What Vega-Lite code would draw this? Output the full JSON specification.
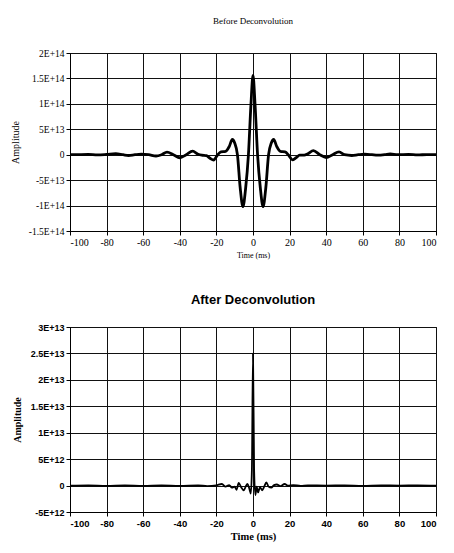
{
  "$schema": "https://vega.github.io/schema/vega-lite/v6.json",
  "background": "white",
  "padding": {"left": 9, "top": 16, "right": 8, "bottom": 4},
  "spacing": 33,
  "config": {
    "view": {"stroke": "black", "strokeWidth": 1},
    "axis": {
      "grid": true,
      "gridColor": "#111111",
      "gridWidth": 1,
      "domainColor": "black",
      "tickColor": "black",
      "tickSize": 4,
      "labelColor": "black",
      "titleColor": "black",
      "labelPadding": 2
    }
  },
  "datasets": {
    "before": [
      {"t": -100, "amp": 0}, {"t": -95, "amp": 0.03e13}, {"t": -90, "amp": 0.05e13}, {"t": -85, "amp": -0.05e13},
      {"t": -80, "amp": 0.05e13}, {"t": -75, "amp": 0.2e13}, {"t": -71, "amp": 0}, {"t": -68, "amp": -0.15e13},
      {"t": -64.5, "amp": 0}, {"t": -61, "amp": 0.1e13}, {"t": -57, "amp": 0}, {"t": -53, "amp": -0.25e13},
      {"t": -50, "amp": 0}, {"t": -47, "amp": 0.5e13}, {"t": -43.5, "amp": 0}, {"t": -40, "amp": -0.6e13},
      {"t": -36.5, "amp": 0}, {"t": -33, "amp": 0.7e13}, {"t": -30, "amp": 0.1e13}, {"t": -28, "amp": -0.1e13},
      {"t": -25.5, "amp": -0.2e13}, {"t": -23.5, "amp": -0.7e13}, {"t": -21.5, "amp": -1.05e13}, {"t": -19.5, "amp": -0.1e13},
      {"t": -17.5, "amp": 0.55e13}, {"t": -15, "amp": 0.65e13}, {"t": -13, "amp": 1.6e13}, {"t": -11.3, "amp": 3.0e13},
      {"t": -10, "amp": 2.3e13}, {"t": -8.5, "amp": 0}, {"t": -7, "amp": -6.5e13}, {"t": -5.5, "amp": -10.2e13},
      {"t": -4, "amp": -6.5e13}, {"t": -2.5, "amp": 0}, {"t": -1.1, "amp": 10e13}, {"t": 0, "amp": 15.6e13},
      {"t": 1.1, "amp": 10e13}, {"t": 2.5, "amp": 0}, {"t": 4, "amp": -6.5e13}, {"t": 5.5, "amp": -10.2e13},
      {"t": 7, "amp": -6.5e13}, {"t": 8.5, "amp": 0}, {"t": 10, "amp": 2.3e13}, {"t": 11.3, "amp": 3.0e13},
      {"t": 13, "amp": 1.6e13}, {"t": 15, "amp": 0.65e13}, {"t": 17.5, "amp": 0.55e13}, {"t": 19.5, "amp": -0.1e13},
      {"t": 21.5, "amp": -1.0e13}, {"t": 23.5, "amp": -0.6e13}, {"t": 25.5, "amp": -0.1e13}, {"t": 28, "amp": -0.1e13},
      {"t": 30, "amp": 0.2e13}, {"t": 33, "amp": 0.8e13}, {"t": 36.5, "amp": 0}, {"t": 40, "amp": -0.55e13},
      {"t": 43.5, "amp": 0}, {"t": 47, "amp": 0.55e13}, {"t": 50, "amp": 0}, {"t": 54, "amp": -0.15e13},
      {"t": 57.5, "amp": 0}, {"t": 61, "amp": 0.1e13}, {"t": 65, "amp": 0}, {"t": 68, "amp": -0.1e13},
      {"t": 72, "amp": 0}, {"t": 75, "amp": 0.15e13}, {"t": 79, "amp": 0}, {"t": 85, "amp": 0.05e13},
      {"t": 90, "amp": -0.05e13}, {"t": 95, "amp": 0.03e13}, {"t": 100, "amp": 0}
    ],
    "after": [
      {"t": -100, "amp": 0}, {"t": -90, "amp": 0.05e12}, {"t": -80, "amp": -0.05e12}, {"t": -70, "amp": 0.05e12},
      {"t": -60, "amp": -0.05e12}, {"t": -50, "amp": 0.05e12}, {"t": -40, "amp": -0.05e12}, {"t": -30, "amp": 0.05e12},
      {"t": -25, "amp": -0.1e12}, {"t": -20, "amp": 0.05e12}, {"t": -17, "amp": 0.3e12}, {"t": -15, "amp": -0.2e12},
      {"t": -13, "amp": 0.1e12}, {"t": -11.5, "amp": -0.4e12}, {"t": -10, "amp": -0.2e12}, {"t": -9, "amp": -0.8e12},
      {"t": -7.8, "amp": 0.5e12}, {"t": -6.5, "amp": -0.3e12}, {"t": -5, "amp": -0.9e12}, {"t": -4, "amp": -0.2e12},
      {"t": -3, "amp": 0.3e12}, {"t": -2, "amp": -0.6e12}, {"t": -1.2, "amp": -1.5e12}, {"t": -0.6, "amp": 3e12},
      {"t": 0, "amp": 25e12}, {"t": 0.6, "amp": 3e12}, {"t": 1.3, "amp": -1.8e12}, {"t": 2, "amp": -0.2e12},
      {"t": 2.8, "amp": -1.3e12}, {"t": 3.8, "amp": -0.3e12}, {"t": 5, "amp": -0.9e12}, {"t": 6, "amp": -0.3e12},
      {"t": 7.3, "amp": 0.6e12}, {"t": 8.5, "amp": -0.2e12}, {"t": 10, "amp": -0.4e12}, {"t": 11.5, "amp": 0.1e12},
      {"t": 13, "amp": 0.2e12}, {"t": 15, "amp": -0.1e12}, {"t": 17.3, "amp": 0.3e12}, {"t": 19, "amp": 0},
      {"t": 22, "amp": 0.1e12}, {"t": 26, "amp": -0.05e12}, {"t": 30, "amp": 0.05e12}, {"t": 40, "amp": 0},
      {"t": 50, "amp": 0.05e12}, {"t": 60, "amp": -0.05e12}, {"t": 70, "amp": 0.05e12}, {"t": 80, "amp": 0},
      {"t": 90, "amp": 0.05e12}, {"t": 100, "amp": 0}
    ]
  },
  "vconcat": [
    {
      "width": 366,
      "height": 178,
      "title": {"text": "Before Deconvolution", "font": "Liberation Serif", "fontSize": 9, "fontWeight": "normal", "color": "black", "offset": 22},
      "data": {"name": "before"},
      "mark": {"type": "line", "interpolate": "monotone", "color": "black", "strokeWidth": 2.8, "clip": true},
      "encoding": {
        "x": {
          "field": "t", "type": "quantitative",
          "scale": {"domain": [-100, 100], "nice": false, "zero": false},
          "axis": {"values": [-100, -80, -60, -40, -20, 0, 20, 40, 60, 80, 100], "labelExpr": "'' + datum.value",
                   "title": "Time (ms)", "labelFont": "Liberation Serif", "labelFontSize": 10,
                   "titleFont": "Liberation Serif", "titleFontSize": 8, "titleFontWeight": "normal", "titlePadding": 4}
        },
        "y": {
          "field": "amp", "type": "quantitative",
          "scale": {"domain": [-1.5e14, 2e14], "nice": false, "zero": false},
          "axis": {"values": [-1.5e14, -1e14, -5e13, 0, 5e13, 1e14, 1.5e14, 2e14],
                   "labelExpr": "datum.value == 0 ? '0' : replace(upper(format(datum.value, '~e')), '\u2212', '-')",
                   "title": "Amplitude", "labelFont": "Liberation Serif", "labelFontSize": 9.5,
                   "titleFont": "Liberation Serif", "titleFontSize": 10, "titleFontWeight": "normal", "titlePadding": 8}
        }
      }
    },
    {
      "width": 366,
      "height": 185,
      "title": {"text": "After Deconvolution", "font": "Liberation Sans", "fontSize": 13, "fontWeight": "bold", "color": "black", "offset": 16},
      "data": {"name": "after"},
      "mark": {"type": "line", "interpolate": "monotone", "color": "black", "strokeWidth": 1.8, "clip": true},
      "encoding": {
        "x": {
          "field": "t", "type": "quantitative",
          "scale": {"domain": [-100, 100], "nice": false, "zero": false},
          "axis": {"values": [-100, -80, -60, -40, -20, 0, 20, 40, 60, 80, 100], "labelExpr": "'' + datum.value",
                   "title": "Time (ms)", "labelFont": "Liberation Sans", "labelFontSize": 9.5, "labelFontWeight": "bold",
                   "titleFont": "Liberation Serif", "titleFontSize": 10.5, "titleFontWeight": "bold", "titlePadding": 4}
        },
        "y": {
          "field": "amp", "type": "quantitative",
          "scale": {"domain": [-5e12, 3e13], "nice": false, "zero": false},
          "axis": {"values": [-5e12, 0, 5e12, 1e13, 1.5e13, 2e13, 2.5e13, 3e13],
                   "labelExpr": "datum.value == 0 ? '0' : replace(upper(format(datum.value, '~e')), '\u2212', '-')",
                   "title": "Amplitude", "labelFont": "Liberation Sans", "labelFontSize": 9, "labelFontWeight": "bold",
                   "titleFont": "Liberation Serif", "titleFontSize": 10, "titleFontWeight": "bold", "titlePadding": 8}
        }
      }
    }
  ]
}
